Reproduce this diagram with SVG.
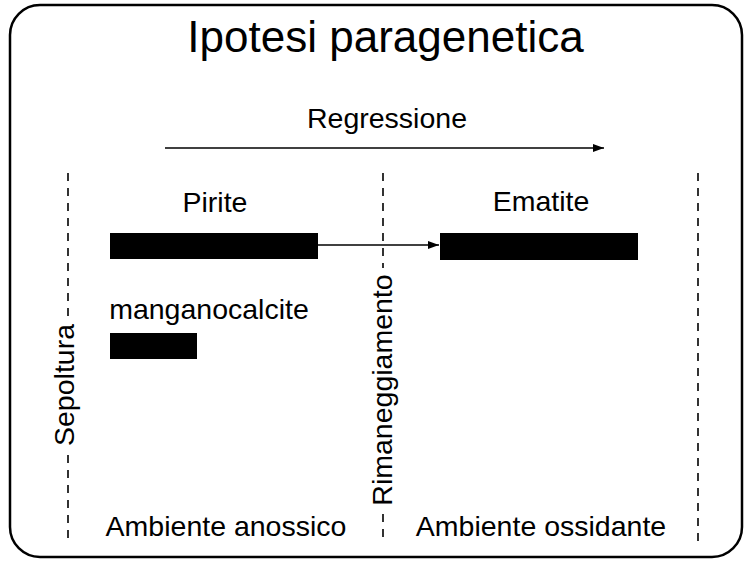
<svg xmlns="http://www.w3.org/2000/svg" width="750" height="563" viewBox="0 0 750 563">
<style>
text{font-family:"Liberation Sans",Arial,sans-serif;fill:#000}
.lbl{font-size:28.5px}
.dash{stroke:#000;stroke-width:1.6;stroke-dasharray:8 7;fill:none}
.bar{fill:#000}
.conn{stroke:#000;stroke-width:1.5;fill:none}
</style>
<defs>
<marker id="ah" markerWidth="12" markerHeight="10" refX="11" refY="5" orient="auto" markerUnits="userSpaceOnUse">
<path d="M0,1 L11,5 L0,9 Z" fill="#000"/>
</marker>
</defs>
<rect x="10" y="5" width="732" height="552" rx="30" ry="30" fill="#fff" stroke="#000" stroke-width="2.5"/>
<text x="385.5" y="52" font-size="44" text-anchor="middle">Ipotesi paragenetica</text>
<g id="regressione">
<text class="lbl" x="387" y="128" text-anchor="middle">Regressione</text>
</g>
<g id="dividers">
<line class="dash" x1="68" y1="173" x2="68" y2="320"/>
<line class="dash" x1="68" y1="455" x2="68" y2="542"/>
<line class="dash" x1="383" y1="173" x2="383" y2="268"/>
<line class="dash" x1="383" y1="514" x2="383" y2="542"/>
<line class="dash" x1="698" y1="173" x2="698" y2="542"/>
</g>
<g id="sepoltura">
<text class="lbl" transform="translate(74,385) rotate(-90)" text-anchor="middle">Sepoltura</text>
</g>
<g id="rimaneggiamento">
<text class="lbl" transform="translate(392,390) rotate(-90)" text-anchor="middle">Rimaneggiamento</text>
</g>
<g id="pirite">
<text class="lbl" x="215" y="212" text-anchor="middle">Pirite</text>
<rect class="bar" x="110" y="233" width="208" height="26"/>
</g>
<g id="ematite">
<text class="lbl" x="541" y="211" text-anchor="middle">Ematite</text>
<rect class="bar" x="440" y="233" width="198" height="27"/>
</g>
<g id="manganocalcite">
<text class="lbl" x="209" y="319" text-anchor="middle">manganocalcite</text>
<rect class="bar" x="110" y="333" width="87" height="26"/>
</g>
<g id="ambiente-anossico">
<text class="lbl" x="226" y="536" text-anchor="middle">Ambiente anossico</text>
</g>
<g id="ambiente-ossidante">
<text class="lbl" x="541" y="536" text-anchor="middle">Ambiente ossidante</text>
</g>
<g id="connectors">
<line class="conn" x1="165" y1="148" x2="604" y2="148" marker-end="url(#ah)"/>
<line class="conn" x1="318" y1="245" x2="439" y2="245" marker-end="url(#ah)"/>
</g>
</svg>
